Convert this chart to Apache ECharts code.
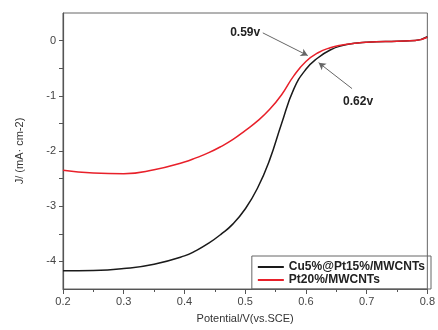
<!DOCTYPE html>
<html><head><meta charset="utf-8">
<script src="https://cdn.jsdelivr.net/npm/echarts@6/dist/echarts.min.js"></script>
<style>html,body{margin:0;padding:0;background:#fff}#c{width:438px;height:330px}</style>
</head><body><div id="c"></div>
<script>
var potential = [0.20,0.25,0.30,0.35,0.40,0.42,0.44,0.46,0.48,0.50,0.52,0.54,0.56,0.58,0.60,0.62,0.64,0.66,0.68,0.70,0.75,0.78,0.80];
var cuPt = [-4.17,-4.165,-4.13,-4.05,-3.90,-3.80,-3.67,-3.51,-3.32,-3.05,-2.68,-2.17,-1.50,-0.88,-0.52,-0.31,-0.17,-0.09,-0.05,-0.03,-0.01,0.00,0.07];
var pt20 = [-2.35,-2.40,-2.41,-2.34,-2.20,-2.12,-2.03,-1.92,-1.79,-1.63,-1.46,-1.25,-0.98,-0.64,-0.38,-0.22,-0.13,-0.08,-0.05,-0.03,-0.01,0.00,0.06];
var seriesNames = ['Cu5%@Pt15%/MWCNTs','Pt20%/MWCNTs'];
var xTicks = {min:0.2, max:0.8, interval:0.1};
var yTicks = {min:-4.5, max:0.5, interval:0.5};
var annotations = [
  {text:'0.59v', label:[0.50,0.14], from:[0.529,0.14], to:[0.603,-0.27]},
  {text:'0.62v', label:[0.686,-1.10], from:[0.676,-0.87], to:[0.621,-0.40]}
];

function pairs(xs, ys){ return xs.map(function(x,i){return [x, ys[i]];}); }

var chart = echarts.init(document.getElementById('c'));
var font = 'Liberation Sans, Arial';
var labelStyle = {color:'#444', fontSize:11, fontFamily:font, margin:7};
var nameStyle = {color:'#333', fontSize:11, fontFamily:font};
var annMarkLine = {
  silent:true, symbol:['none','arrow'], symbolSize:[6,7],
  lineStyle:{color:'#666', width:1, type:'solid'},
  label:{show:false},
  data: annotations.map(function(a){ return [{coord:a.from},{coord:a.to}]; })
};
var annMarkPoint = {
  silent:true, symbol:'circle', symbolSize:0,
  label:{show:true, position:'inside', color:'#222', fontWeight:'bold', fontSize:12, fontFamily:font, formatter:function(p){return p.name;}},
  data: annotations.map(function(a){ return {name:a.text, coord:a.label}; })
};
chart.setOption({
  animation:false,
  grid:{left:63, right:7, top:13, bottom:41, show:true, borderColor:'#666', borderWidth:1},
  xAxis:{type:'value', min:xTicks.min, max:xTicks.max, interval:xTicks.interval,
    name:'Potential/V(vs.SCE)', nameLocation:'middle', nameGap:24, nameTextStyle:nameStyle,
    axisLine:{show:true, onZero:false, lineStyle:{color:'#555', width:1.2}},
    axisTick:{show:true, inside:false, length:5, lineStyle:{color:'#555'}},
    minorTick:{show:true, splitNumber:2, length:3, lineStyle:{color:'#555'}},
    splitLine:{show:false},
    axisLabel:Object.assign({}, labelStyle, {formatter:function(v){return (+v).toFixed(1);}})
  },
  yAxis:{type:'value', min:yTicks.min, max:yTicks.max, interval:yTicks.interval,
    name:'J/ (mA· cm-2)', nameLocation:'middle', nameGap:38, nameRotate:90, nameTextStyle:nameStyle,
    axisLine:{show:true, onZero:false, lineStyle:{color:'#555', width:1.2}},
    axisTick:{show:true, inside:false, length:4, lineStyle:{color:'#555'}},
    splitLine:{show:false},
    axisLabel:Object.assign({}, labelStyle, {showMinLabel:false, showMaxLabel:false,
      formatter:function(v){ return Math.abs(v - Math.round(v)) < 1e-6 ? String(Math.round(v)) : ''; }})
  },
  legend:{
    orient:'vertical', right:7, bottom:41, itemGap:1,
    borderColor:'#666', borderWidth:1, padding:[5,6,3,6],
    itemWidth:26, itemHeight:2, icon:'rect',
    textStyle:{color:'#222', fontWeight:'bold', fontSize:12, fontFamily:font},
    data:seriesNames
  },
  series:[
    {name:seriesNames[0], type:'line', data:pairs(potential,cuPt), smooth:0.5, showSymbol:false, symbol:'none',
     lineStyle:{color:'#1a1a1a', width:1.5}, itemStyle:{color:'#1a1a1a'},
     markLine:annMarkLine, markPoint:annMarkPoint},
    {name:seriesNames[1], type:'line', data:pairs(potential,pt20), smooth:0.5, showSymbol:false, symbol:'none',
     lineStyle:{color:'#e8202a', width:1.5}, itemStyle:{color:'#e8202a'}}
  ]
});
</script></body></html>
